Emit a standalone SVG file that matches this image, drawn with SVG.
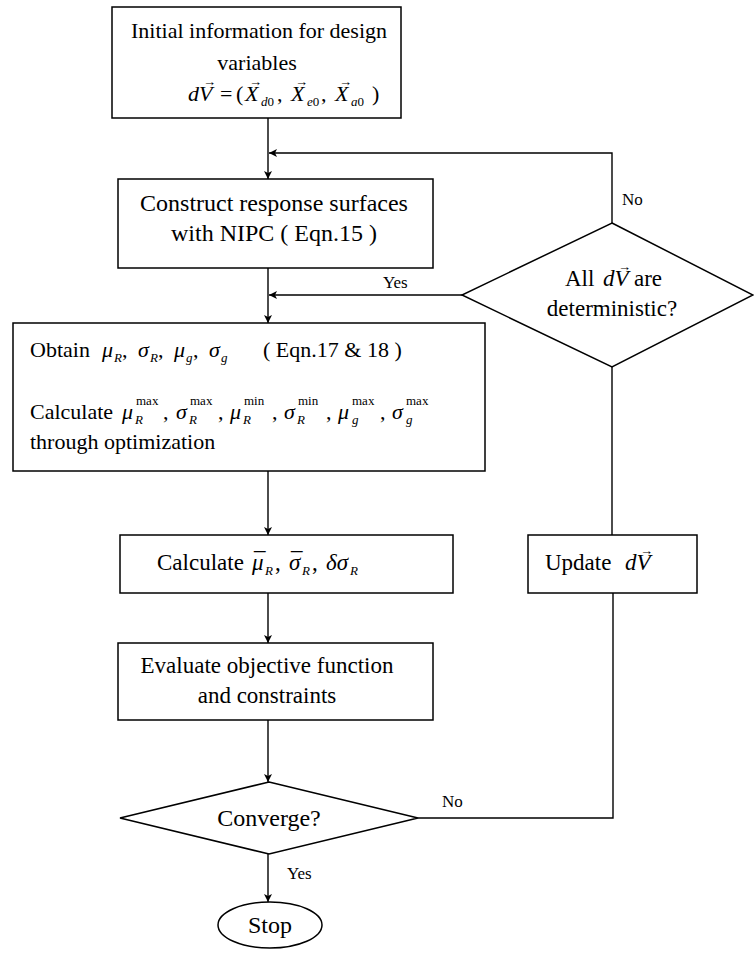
<svg xmlns="http://www.w3.org/2000/svg" width="754" height="955" viewBox="0 0 754 955" font-family="'Liberation Serif', 'Times New Roman', 'DejaVu Serif', serif">
<style>
.box{fill:#fff;stroke:#000;stroke-width:1.5}
.ln{fill:none;stroke:#000;stroke-width:1.4}
text{font-family:'Liberation Serif','Times New Roman','DejaVu Serif',serif;font-size:23px;fill:#000}
.c{text-anchor:middle}
.i{font-style:italic}
.sub{font-size:13px}
.vec{font-size:13px;font-style:normal}
.lbl{font-size:17px}
.big{font-size:24px}
.sm{font-size:22px}
</style>
<defs>
<marker id="ah" viewBox="0 0 10 10" refX="10" refY="5" markerWidth="8" markerHeight="8" orient="auto" markerUnits="userSpaceOnUse">
<path d="M0,0 L10,5 L0,10 L2.5,5 z" fill="#000"/>
</marker>
</defs>
<rect width="754" height="955" fill="#fff"/>
<g id="connectors">
<line class="ln" x1="268" y1="118" x2="268" y2="179" marker-end="url(#ah)"/>
<polyline class="ln" points="612,223 612,153 269,153" marker-end="url(#ah)"/>
<line class="ln" x1="462" y1="295" x2="269" y2="295" marker-end="url(#ah)"/>
<line class="ln" x1="268" y1="268" x2="268" y2="323" marker-end="url(#ah)"/>
<line class="ln" x1="268" y1="471" x2="268" y2="535" marker-end="url(#ah)"/>
<line class="ln" x1="268" y1="593" x2="268" y2="643" marker-end="url(#ah)"/>
<line class="ln" x1="268" y1="720" x2="268" y2="782" marker-end="url(#ah)"/>
<line class="ln" x1="268" y1="854" x2="268" y2="902" marker-end="url(#ah)"/>
<line class="ln" x1="612" y1="367" x2="612" y2="535"/>
<polyline class="ln" points="418,818 613,818 613,593"/>
<text class="lbl" x="622" y="205">No</text>
<text class="lbl" x="383" y="288">Yes</text>
<text class="lbl" x="442" y="807">No</text>
<text class="lbl" x="287" y="879">Yes</text>
</g>
<g id="n1">
<rect class="box" x="112" y="7" width="289" height="111"/>
<text class="c sm" x="259" y="38">Initial information for design</text>
<text class="c sm" x="257" y="70">variables</text>
<text y="101" class="sm"><tspan class="i" x="188">d</tspan><tspan class="i" x="199">V</tspan><tspan class="vec" x="203" dy="-15">→</tspan><tspan x="220" dy="15">=</tspan><tspan x="236">(</tspan><tspan class="i" x="245">X</tspan><tspan class="vec" x="249" dy="-15">→</tspan><tspan class="sub i" x="261" dy="20">d</tspan><tspan class="sub">0</tspan><tspan x="277" dy="-5">,</tspan><tspan class="i" x="291">X</tspan><tspan class="vec" x="295" dy="-15">→</tspan><tspan class="sub i" x="307" dy="20">e</tspan><tspan class="sub">0</tspan><tspan x="321" dy="-5">,</tspan><tspan class="i" x="335">X</tspan><tspan class="vec" x="339" dy="-15">→</tspan><tspan class="sub i" x="351" dy="20">a</tspan><tspan class="sub">0</tspan><tspan x="372" dy="-5">)</tspan></text>
</g>
<g id="n2">
<rect class="box" x="118" y="179" width="315" height="89"/>
<text class="c big" x="274" y="211">Construct response surfaces</text>
<text class="c big" x="274" y="241">with NIPC ( Eqn.15 )</text>
</g>
<g id="n3">
<polygon class="box" points="612,223 753,295 612,367 462,295"/>
<text y="286"><tspan x="565">All</tspan><tspan class="i" x="603">d</tspan><tspan class="i">V</tspan><tspan class="vec" x="618" dy="-15">→</tspan><tspan x="634" dy="15">are</tspan></text>
<text class="c" x="612" y="316">deterministic?</text>
</g>
<g id="n4">
<rect class="box" x="13" y="323" width="472" height="148"/>
<text class="sm" y="357"><tspan x="30">Obtain</tspan><tspan class="i" x="102">μ</tspan><tspan class="sub i" x="114" dy="5">R</tspan><tspan x="122" dy="-5">,</tspan><tspan class="i" x="138">σ</tspan><tspan class="sub i" x="150" dy="5">R</tspan><tspan x="158" dy="-5">,</tspan><tspan class="i" x="174">μ</tspan><tspan class="sub i" x="186" dy="5">g</tspan><tspan x="193" dy="-5">,</tspan><tspan class="i" x="209">σ</tspan><tspan class="sub i" x="221" dy="5">g</tspan><tspan x="263" dy="-5">( Eqn.17 &amp; 18 )</tspan></text>
<text class="sm" x="30" y="419">Calculate</text>
<text class="sm" y="419"><tspan class="i" x="122">μ</tspan><tspan class="sub i" x="135" dy="5">R</tspan><tspan class="sub" x="136" dy="-19">max</tspan><tspan x="163" dy="14">,</tspan></text>
<text class="sm" y="419"><tspan class="i" x="176">σ</tspan><tspan class="sub i" x="189" dy="5">R</tspan><tspan class="sub" x="190" dy="-19">max</tspan><tspan x="218" dy="14">,</tspan></text>
<text class="sm" y="419"><tspan class="i" x="230">μ</tspan><tspan class="sub i" x="243" dy="5">R</tspan><tspan class="sub" x="244" dy="-19">min</tspan><tspan x="272" dy="14">,</tspan></text>
<text class="sm" y="419"><tspan class="i" x="284">σ</tspan><tspan class="sub i" x="297" dy="5">R</tspan><tspan class="sub" x="298" dy="-19">min</tspan><tspan x="326" dy="14">,</tspan></text>
<text class="sm" y="419"><tspan class="i" x="338">μ</tspan><tspan class="sub i" x="352" dy="5">g</tspan><tspan class="sub" x="352" dy="-19">max</tspan><tspan x="380" dy="14">,</tspan></text>
<text class="sm" y="419"><tspan class="i" x="392">σ</tspan><tspan class="sub i" x="406" dy="5">g</tspan><tspan class="sub" x="406" dy="-19">max</tspan></text>
<text class="sm" x="30" y="449">through optimization</text>
</g>
<g id="n5">
<rect class="box" x="120" y="535" width="333" height="58"/>
<text y="570"><tspan x="157">Calculate</tspan><tspan class="i" x="252">μ</tspan><tspan x="254" dy="-1">¯</tspan><tspan class="sub i" x="265" dy="6">R</tspan><tspan x="275" dy="-5">,</tspan><tspan class="i" x="289">σ</tspan><tspan x="291" dy="-1">¯</tspan><tspan class="sub i" x="302" dy="6">R</tspan><tspan x="312" dy="-5">,</tspan><tspan class="i" x="326">δσ</tspan><tspan class="sub i" x="350" dy="5">R</tspan></text>
</g>
<g id="n6">
<rect class="box" x="528" y="535" width="169" height="58"/>
<text y="570"><tspan x="545">Update</tspan><tspan class="i" x="625">d</tspan><tspan class="i">V</tspan><tspan class="vec" x="640" dy="-15">→</tspan></text>
</g>
<g id="n7">
<rect class="box" x="118" y="643" width="315" height="77"/>
<text class="c" x="267" y="673">Evaluate objective function</text>
<text class="c" x="267" y="703">and constraints</text>
</g>
<g id="n8">
<polygon class="box" points="269,782 418,818 269,854 120,818"/>
<text class="c big" x="269" y="826">Converge?</text>
</g>
<g id="n9">
<ellipse class="box" cx="270" cy="925" rx="52" ry="23"/>
<text class="c big" x="270" y="933">Stop</text>
</g>
</svg>
